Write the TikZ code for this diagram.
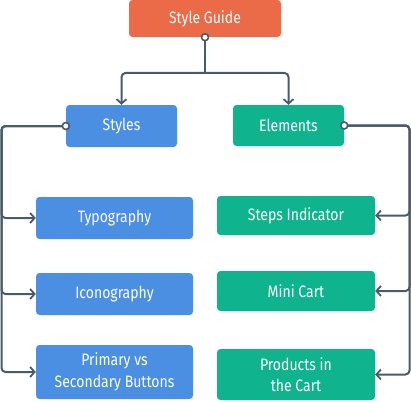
\documentclass[tikz,border=0pt]{standalone}
\usepackage{fontspec}
\setmainfont{Fira Sans}[FakeStretch=0.85]
\usetikzlibrary{arrows.meta}
\definecolor{orangebox}{HTML}{EB6A47}
\definecolor{bluebox}{HTML}{4A8FE2}
\definecolor{tealbox}{HTML}{0FB48F}
\definecolor{linec}{HTML}{4A5A66}
\tikzset{
  box/.style={rectangle, rounded corners=3.5pt, text=white, font=\fontsize{16.5}{21.5}\selectfont, align=center, inner sep=0pt},
  sgbox/.style={box, fill=orangebox},
  bbox/.style={box, fill=bluebox},
  tbox/.style={box, fill=tealbox},
  conn/.style={draw=linec, line width=2pt, rounded corners=4pt, -{Straight Barb[length=4.5pt,width=10pt,line width=1.8pt]}},
  plain/.style={draw=linec, line width=2pt, rounded corners=4pt},
  dot/.style={circle, draw=linec, fill=white, line width=1.6pt, minimum size=7pt, inner sep=0pt}
}
\begin{document}
\begin{tikzpicture}[x=1pt,y=-1pt]
\useasboundingbox (0,0) rectangle (411,401);
\node[sgbox, minimum width=152pt, minimum height=37pt] (sg) at (205,18.5) {Style Guide};
\node[bbox, minimum width=111pt, minimum height=42pt] (st) at (121.5,126) {Styles};
\node[tbox, minimum width=111pt, minimum height=41pt] (el) at (288.5,125.5) {Elements};
\node[bbox, minimum width=157pt, minimum height=42pt] (ty) at (114.5,218) {Typography};
\node[bbox, minimum width=157pt, minimum height=42pt] (ic) at (114.5,294) {Iconography};
\node[bbox, minimum width=157pt, minimum height=54pt] (pr) at (114.5,372) {Primary vs\\Secondary Buttons};
\node[tbox, minimum width=158pt, minimum height=39pt] (sp) at (296,215.5) {Steps Indicator};
\node[tbox, minimum width=158pt, minimum height=40pt] (mc) at (296,291) {Mini Cart};
\node[tbox, minimum width=158pt, minimum height=51pt] (pc) at (296,374.5) {Products in\\the Cart};
\coordinate (j) at (205,73);
\coordinate (lb) at (1.5,0);
\coordinate (rb) at (409.5,0);
% top tree
\draw[plain] (sg.south) -- (j);
\draw[conn] (j) -| (st.north);
\draw[conn] (j) -| (el.north);
% left branch
\draw[conn] (st.west) -| (lb |- ty.west) -- (ty.west);
\draw[conn] (st.west) -| (lb |- ic.west) -- (ic.west);
\draw[conn] (st.west) -| (lb |- pr.west) -- (pr.west);
% right branch
\draw[conn] (el.east) -| (rb |- sp.east) -- (sp.east);
\draw[conn] (el.east) -| (rb |- mc.east) -- (mc.east);
\draw[conn] (el.east) -| (rb |- pc.east) -- (pc.east);
% dots
\node[dot] (d1) at (sg.south) {};
\node[dot] (d2) at (st.west) {};
\node[dot] (d3) at (el.east) {};
\end{tikzpicture}
\end{document}
